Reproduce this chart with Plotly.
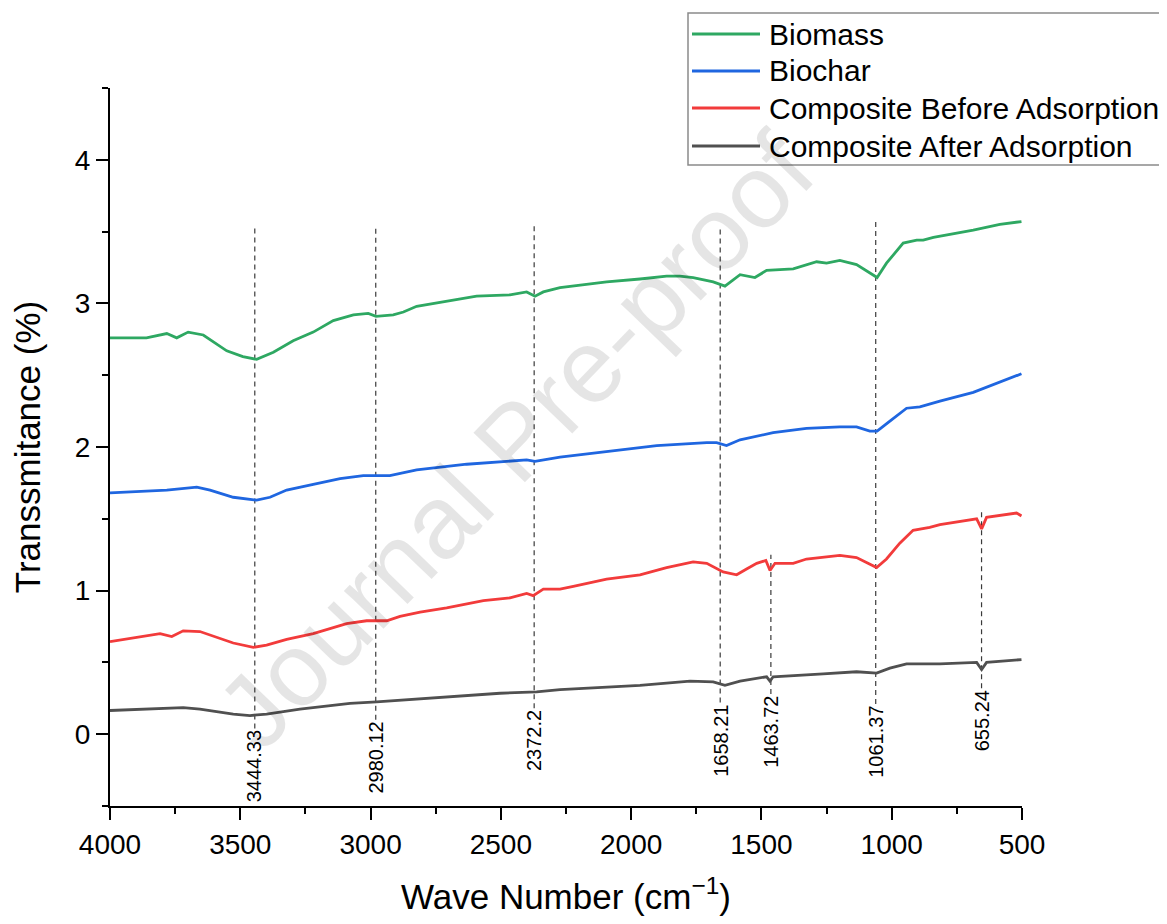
import plotly.graph_objects as go

# ---------------- data ----------------
series_names = ["Biomass", "Biochar", "Composite Before Adsorption", "Composite After Adsorption"]
series_colors = ["#2EA862", "#1F66E0", "#F23B3B", "#505050"]

biomass_x = [4000, 3860, 3782, 3744, 3700, 3642, 3552, 3490, 3437, 3373, 3297, 3220, 3143, 3066, 3009,
             2979, 2913, 2874, 2823, 2721, 2593, 2465, 2401, 2369, 2337, 2273, 2094, 1966, 1864, 1813,
             1762, 1685, 1640, 1582, 1525, 1480, 1378, 1288, 1250, 1199, 1135, 1056, 1020, 956, 904,
             879, 840, 687, 585, 502]
biomass_y = [2.76, 2.76, 2.79, 2.76, 2.80, 2.78, 2.67, 2.63, 2.61, 2.66, 2.74, 2.80, 2.88, 2.92, 2.93,
             2.91, 2.92, 2.94, 2.98, 3.01, 3.05, 3.06, 3.08, 3.05, 3.08, 3.11, 3.15, 3.17, 3.19, 3.19,
             3.18, 3.15, 3.12, 3.20, 3.18, 3.23, 3.24, 3.29, 3.28, 3.30, 3.27, 3.18, 3.28, 3.42, 3.44,
             3.44, 3.46, 3.51, 3.55, 3.57]

biochar_x = [4000, 3782, 3667, 3616, 3527, 3437, 3386, 3322, 3220, 3117, 3028, 2977, 2926, 2823, 2631,
             2401, 2369, 2273, 2094, 1902, 1710, 1672, 1634, 1582, 1455, 1327, 1199, 1135, 1084, 1056,
             1007, 943, 892, 815, 687, 502]
biochar_y = [1.68, 1.70, 1.72, 1.70, 1.65, 1.63, 1.65, 1.70, 1.74, 1.78, 1.80, 1.80, 1.80, 1.84, 1.88,
             1.91, 1.90, 1.93, 1.97, 2.01, 2.03, 2.03, 2.01, 2.05, 2.10, 2.13, 2.14, 2.14, 2.11, 2.11,
             2.18, 2.27, 2.28, 2.32, 2.38, 2.51]

before_x = [4000, 3808, 3763, 3719, 3655, 3591, 3527, 3450, 3399, 3322, 3220, 3092, 3015, 2938, 2887,
            2810, 2708, 2567, 2465, 2401, 2376, 2337, 2273, 2222, 2094, 1966, 1864, 1762, 1710, 1647,
            1595, 1557, 1518, 1483, 1467, 1448, 1378, 1327, 1199, 1135, 1058, 1020, 969, 918, 854,
            815, 674, 655, 636, 521, 502]
before_y = [0.645, 0.70, 0.68, 0.72, 0.715, 0.675, 0.635, 0.605, 0.62, 0.66, 0.70, 0.77, 0.79, 0.79, 0.82,
            0.85, 0.88, 0.93, 0.95, 0.98, 0.965, 1.01, 1.01, 1.03, 1.08, 1.11, 1.16, 1.20, 1.19, 1.13,
            1.11, 1.15, 1.19, 1.21, 1.14, 1.19, 1.19, 1.22, 1.245, 1.23, 1.16, 1.22, 1.33, 1.42, 1.44,
            1.46, 1.50, 1.43, 1.51, 1.54, 1.52]

after_x = [4000, 3719, 3655, 3527, 3463, 3399, 3271, 3079, 2977, 2759, 2503, 2363, 2273, 1966, 1774,
           1685, 1640, 1582, 1480, 1467, 1455, 1263, 1135, 1058, 1007, 943, 815, 674, 655, 636, 502]
after_y = [0.165, 0.185, 0.175, 0.14, 0.13, 0.14, 0.175, 0.215, 0.225, 0.255, 0.285, 0.295, 0.31, 0.34, 0.37,
           0.365, 0.34, 0.37, 0.40, 0.37, 0.40, 0.42, 0.435, 0.425, 0.46, 0.49, 0.49, 0.50, 0.45, 0.50, 0.52]

peak_positions = [3444.33, 2980.12, 2372.2, 1658.21, 1463.72, 1061.37, 655.24]
peak_labels = ["3444.33", "2980.12", "2372.2", "1658.21", "1463.72", "1061.37", "655.24"]

# layout helpers for the marker lines (top of dashed line, top of rotated label)
marker_line_top = [3.54, 3.52, 3.56, 3.54, 1.25, 3.57, 1.57]
marker_label_top = [0.04, 0.10, 0.18, 0.22, 0.28, 0.21, 0.32]

x_tick_values = [4000, 3500, 3000, 2500, 2000, 1500, 1000, 500]
y_tick_values = [0, 1, 2, 3, 4]

FONT = "Arial, 'Liberation Sans', sans-serif"

# figure geometry (page body has an 8px margin, so the figure is 8px smaller and offset)
PAGE_OFF = 8
W, H = 1167 - PAGE_OFF, 924 - PAGE_OFF
ML, MR, MT, MB = 110 - PAGE_OFF, 145, 88 - PAGE_OFF, 118
PW, PH = W - ML - MR, H - MT - MB


def px_to_paper(px, py):
    """screen pixel of the reference -> paper coords"""
    fx, fy = px - PAGE_OFF, py - PAGE_OFF
    return (fx - ML) / PW, (H - MB - fy) / PH


fig = go.Figure()
all_x = [biomass_x, biochar_x, before_x, after_x]
all_y = [biomass_y, biochar_y, before_y, after_y]
for name, color, xs, ys in zip(series_names, series_colors, all_x, all_y):
    fig.add_trace(go.Scatter(x=xs, y=ys, mode="lines", name=name, showlegend=False,
                             line=dict(color=color, width=2.8)))

shapes = []
annotations = []
for pos, lab, top, bot in zip(peak_positions, peak_labels, marker_line_top, marker_label_top):
    shapes.append(dict(type="line", xref="x", yref="y", x0=pos, x1=pos, y0=bot, y1=top,
                       line=dict(color="#3a3a3a", width=1.2, dash="5px,4px"), layer="below"))
    annotations.append(dict(x=pos, y=bot, xref="x", yref="y", text=lab, showarrow=False,
                            textangle=-90, xanchor="center", yanchor="top",
                            font=dict(family=FONT, size=20, color="black")))

# watermark
annotations.append(dict(x=0.445, y=0.51, xref="paper", yref="paper", text="Journal Pre-proof",
                        showarrow=False, textangle=-46,
                        font=dict(family=FONT, size=104, color="rgba(0,0,0,0.10)")))

# legend box drawn in paper space
bx0, by0 = px_to_paper(688, 13)
bx1, by1 = px_to_paper(1163, 165)
shapes.append(dict(type="rect", xref="paper", yref="paper", x0=bx0, x1=bx1, y0=by1, y1=by0,
                   line=dict(color="#8a8a8a", width=1.5), fillcolor="white", layer="above"))
row_py = [34, 71, 108, 146]
for name, color, py in zip(series_names, series_colors, row_py):
    lx0, ly = px_to_paper(692, py)
    lx1, _ = px_to_paper(760, py)
    tx, _ = px_to_paper(767, py)
    shapes.append(dict(type="line", xref="paper", yref="paper", x0=lx0, x1=lx1, y0=ly, y1=ly,
                       line=dict(color=color, width=2.8), layer="above"))
    annotations.append(dict(x=tx, y=ly, xref="paper", yref="paper", text=name, showarrow=False,
                            xanchor="left", yanchor="middle",
                            font=dict(family=FONT, size=30, color="black")))

fig.update_layout(
    width=W, height=H,
    margin=dict(l=ML, r=MR, t=MT, b=MB, autoexpand=False),
    paper_bgcolor="white", plot_bgcolor="white",
    font=dict(family=FONT, color="black"),
    shapes=shapes, annotations=annotations,
    showlegend=False,
)
fig.update_xaxes(
    range=[4000, 500], tickvals=x_tick_values, ticktext=[str(v) for v in x_tick_values],
    showline=True, linewidth=2, linecolor="black", mirror=False,
    ticks="outside", ticklen=12, tickwidth=2, tickcolor="black",
    minor=dict(ticks="outside", ticklen=6, tickwidth=2, tickcolor="black", dtick=250, tick0=500),
    showgrid=False, zeroline=False,
    tickfont=dict(family=FONT, size=28),
    title=dict(text="Wave Number (cm<sup>\u22121</sup>)", font=dict(family=FONT, size=35), standoff=26),
)
fig.update_yaxes(
    range=[-0.5, 4.5], tickvals=y_tick_values, ticktext=[str(v) for v in y_tick_values],
    showline=True, linewidth=2, linecolor="black", mirror=False,
    ticks="outside", ticklen=12, tickwidth=2, tickcolor="black",
    minor=dict(ticks="outside", ticklen=6, tickwidth=2, tickcolor="black", dtick=0.5, tick0=0.5),
    showgrid=False, zeroline=False,
    tickfont=dict(family=FONT, size=28),
    title=dict(text="Transsmitance (%)", font=dict(family=FONT, size=35), standoff=24),
)

fig.write_html("out.html")
